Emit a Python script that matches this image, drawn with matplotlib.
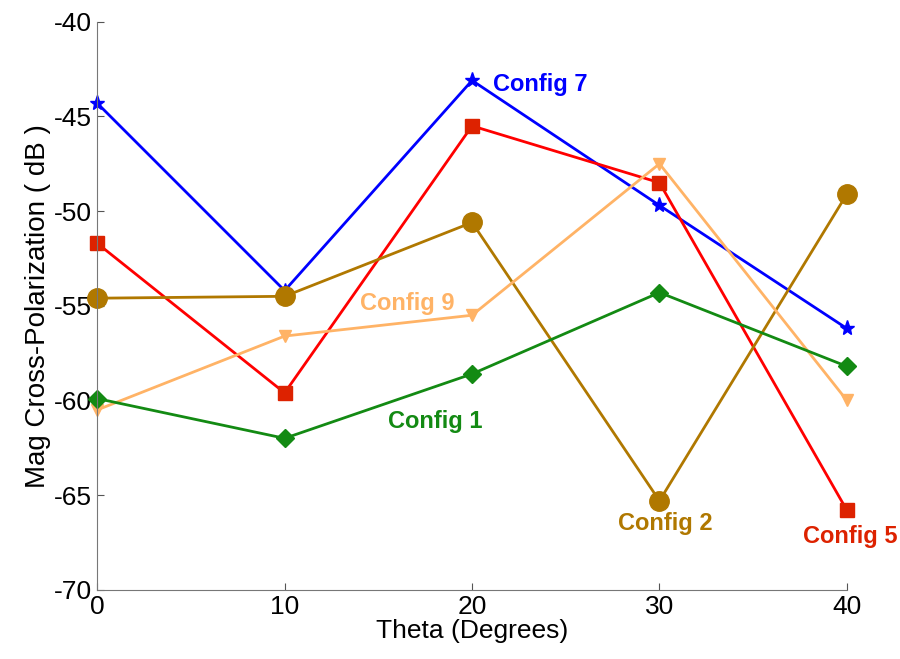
import numpy as np
import matplotlib.pyplot as plt

plt.rcParams['font.family'] = ['Liberation Sans', 'DejaVu Sans']
plt.rcParams['axes.unicode_minus'] = False

theta = [0, 10, 20, 30, 40]
cfg7 = [-44.3, -54.2, -43.1, -49.7, -56.2]
cfg5 = [-51.7, -59.6, -45.5, -48.5, -65.8]
cfg2 = [-54.6, -54.5, -50.6, -65.3, -49.1]
cfg9 = [-60.5, -56.6, -55.5, -47.5, -60.0]
cfg1 = [-59.9, -62.0, -58.6, -54.3, -58.2]

fig = plt.figure(figsize=(9, 6.59), dpi=100)
ax = fig.add_axes([0.108, 0.105, 0.833, 0.862])

ax.plot(theta, cfg7, color='#0000ff', lw=2, marker='*', ms=11, mfc='#0000ff', mec='#0000ff')
ax.plot(theta, cfg5, color='#ff0000', lw=2, marker='s', ms=10, mfc='#dd2200', mec='#dd2200')
ax.plot(theta, cfg2, color='#b07800', lw=2, marker='o', ms=14, mfc='#b07800', mec='#b07800')
ax.plot(theta, cfg9, color='#ffb366', lw=2, marker='v', ms=8, mfc='#ffb366', mec='#ffb366')
ax.plot(theta, cfg1, color='#138a13', lw=2, marker='D', ms=9, mfc='#138a13', mec='#138a13')

tf = dict(fontsize=17, fontweight='bold')
ax.text(21.1, -43.3, 'Config 7', color='#0000ff', va='center', **tf)
ax.text(14.0, -54.9, 'Config 9', color='#ffb366', va='center', **tf)
ax.text(15.5, -61.1, 'Config 1', color='#138a13', va='center', **tf)
ax.text(30.3, -66.5, 'Config 2', color='#b07800', va='center', ha='center', **tf)
ax.text(40.2, -67.2, 'Config 5', color='#dd2200', va='center', ha='center', **tf)

ax.set_xlim(0, 40)
ax.set_ylim(-70, -40)
ax.set_xticks(theta)
ax.set_yticks(np.arange(-70, -39, 5))
for s in ['top', 'right']:
    ax.spines[s].set_visible(False)
for s in ['left', 'bottom']:
    ax.spines[s].set_color('#777777')
ax.tick_params(direction='in', length=5, color='#555555', labelsize=19)
ax.set_xlabel('Theta (Degrees)', fontsize=19, labelpad=0)
ax.set_ylabel('Mag Cross-Polarization ( dB )', fontsize=20, labelpad=2)
for l in ax.lines:
    l.set_clip_on(False)

fig.savefig('out.png', dpi=100)
